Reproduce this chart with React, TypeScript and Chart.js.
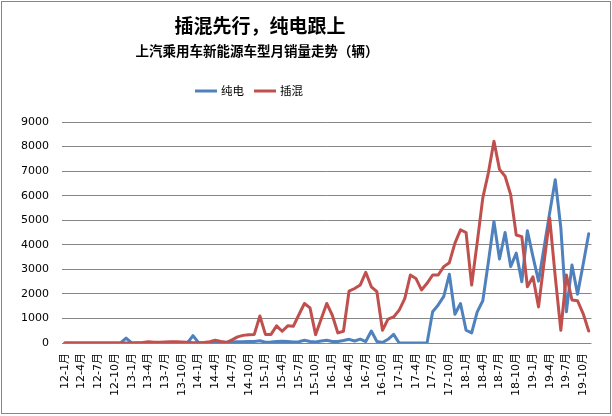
import { useEffect, useRef } from 'react';
import { Chart, registerables } from 'chart.js';

Chart.register(...registerables);

const TITLE = '插混先行，纯电跟上';
const SUBTITLE = '上汽乘用车新能源车型月销量走势（辆）';
const SERIES_NAMES = ['纯电', '插混'];
const SERIES_COLORS = ['#4F81BD', '#C0504D'];

const YEARS = [12, 13, 14, 15, 16, 17, 18, 19];
const LAST_YEAR = 19;
const LAST_MONTH = 11;
const LABEL_EVERY = 3;

const categories: string[] = [];
for (const y of YEARS) {
  for (let m = 1; m <= 12; m++) {
    if (y === LAST_YEAR && m > LAST_MONTH) break;
    categories.push(`${y}-${m}月`);
  }
}

// 纯电
const bevSales = [
  0, 0, 0, 0, 0, 0, 0, 0, 0, 0, 0, 200,
  0, 0, 0, 0, 0, 0, 0, 0, 0, 0, 0, 300,
  10, 10, 20, 20, 30, 30, 40, 50, 50, 60, 60, 90,
  30, 40, 60, 70, 60, 40, 50, 110, 60, 40, 80, 110,
  60, 60, 100, 150, 80, 160, 60, 490, 60, 20, 150, 350,
  0, 0, 0, 0, 0, 0, 1270, 1550, 1900, 2800, 1170, 1610,
  520, 410, 1270, 1720, 3300, 4950, 3420, 4500, 3110, 3660, 2500, 4570,
  3520, 2520, 3900, 5300, 6650, 4700, 1270, 3180, 1990, 3200, 4450,
];

// 插混
const phevSales = [
  0, 0, 0, 0, 0, 0, 0, 0, 0, 0, 0, 0,
  0, 10, 20, 50, 30, 30, 40, 50, 50, 40, 30, 10,
  10, 20, 50, 110, 60, 20, 130, 250, 310, 340, 350, 1100,
  350, 350, 700, 480, 700, 680, 1150, 1610, 1430, 340, 980, 1610,
  1130, 410, 480, 2110, 2220, 2360, 2880, 2290, 2090, 520, 970, 1060,
  1340, 1810, 2770, 2630, 2160, 2430, 2770, 2770, 3110, 3270, 4070, 4610,
  4500, 2360, 4100, 5910, 6930, 8220, 7070, 6790, 6040, 4400, 4330, 2290,
  2700, 1470, 3300, 5090, 2700, 520, 2770, 1750, 1720, 1200, 490,
];

const Y_MIN = 0;
const Y_MAX = 9000;
const Y_STEP = 1000;

const TICK_FONT = "'DejaVu Sans', 'Noto Sans CJK SC', sans-serif";
const CJK_FONT = "'Noto Sans CJK SC', sans-serif";
const GRID_COLOR = '#868686';

const decorPlugin = {
  id: 'decor',
  beforeDraw(chart: any) {
    const ctx = chart.ctx;
    ctx.save();
    ctx.fillStyle = '#ffffff';
    ctx.fillRect(0, 0, chart.width, chart.height);
    ctx.restore();
  },
  afterDraw(chart: any) {
    const ctx = chart.ctx;
    ctx.save();
    ctx.fillStyle = '#000000';
    ctx.textAlign = 'center';
    ctx.textBaseline = 'middle';
    ctx.font = `bold 19px ${CJK_FONT}`;
    ctx.fillText(TITLE, 260, 26);
    ctx.font = `bold 13.5px ${CJK_FONT}`;
    ctx.fillText(SUBTITLE, 257, 51);

    // legend
    let x = 195;
    const ly = 91;
    ctx.font = `11.5px ${CJK_FONT}`;
    ctx.textAlign = 'left';
    chart.data.datasets.forEach((ds: any) => {
      ctx.strokeStyle = ds.borderColor;
      ctx.lineWidth = 3;
      ctx.lineCap = 'butt';
      ctx.beginPath();
      ctx.moveTo(x, ly);
      ctx.lineTo(x + 22, ly);
      ctx.stroke();
      ctx.fillStyle = '#000000';
      ctx.fillText(ds.label, x + 26, ly);
      x += 26 + ctx.measureText(ds.label).width + 10;
    });

    // chart-area border
    ctx.strokeStyle = GRID_COLOR;
    ctx.lineWidth = 1;
    ctx.strokeRect(1.5, 1.5, 609, 412);
    ctx.restore();
  },
};

export default function App() {
  const canvasRef = useRef<HTMLCanvasElement | null>(null);

  useEffect(() => {
    document.body.style.margin = '0';
    const canvas = canvasRef.current;
    if (!canvas) return;
    const chart = new Chart(canvas, {
      type: 'line',
      data: {
        labels: categories,
        datasets: [
          {
            label: SERIES_NAMES[0],
            data: bevSales,
            borderColor: SERIES_COLORS[0],
            backgroundColor: SERIES_COLORS[0],
            borderWidth: 3,
            pointRadius: 0,
            tension: 0,
            borderJoinStyle: 'round',
            borderCapStyle: 'round',
            order: 2,
          },
          {
            label: SERIES_NAMES[1],
            data: phevSales,
            borderColor: SERIES_COLORS[1],
            backgroundColor: SERIES_COLORS[1],
            borderWidth: 3,
            pointRadius: 0,
            tension: 0,
            borderJoinStyle: 'round',
            borderCapStyle: 'round',
            order: 1,
          },
        ],
      },
      options: {
        animation: false,
        responsive: false,
        devicePixelRatio: 1,
        layout: { padding: { top: 122, right: 20, bottom: 3, left: 0 } },
        plugins: {
          legend: { display: false },
          title: { display: false },
          tooltip: { enabled: false },
        },
        scales: {
          x: {
            type: 'category',
            offset: true,
            grid: { display: false, drawTicks: false },
            border: { display: false },
            ticks: {
              autoSkip: false,
              minRotation: 90,
              maxRotation: 90,
              padding: 10,
              color: '#000000',
              font: { family: TICK_FONT, size: 11 },
              callback: (_v: any, i: number) => (i % LABEL_EVERY === 0 ? categories[i] : ''),
            },
            afterFit: (s: any) => {
              s.height = 70;
            },
          },
          y: {
            min: Y_MIN,
            max: Y_MAX,
            grid: { color: GRID_COLOR, lineWidth: 1, drawTicks: false },
            border: { display: false },
            ticks: {
              stepSize: Y_STEP,
              padding: 13,
              color: '#000000',
              font: { family: TICK_FONT, size: 11 },
              callback: (v: any) => String(v),
            },
            afterFit: (s: any) => {
              s.width = 62;
            },
          },
        },
      },
      plugins: [decorPlugin],
    });
    return () => chart.destroy();
  }, []);

  return (
    <div style={{ width: 612, height: 416 }}>
      <canvas ref={canvasRef} width={612} height={416} style={{ display: 'block' }} />
    </div>
  );
}
